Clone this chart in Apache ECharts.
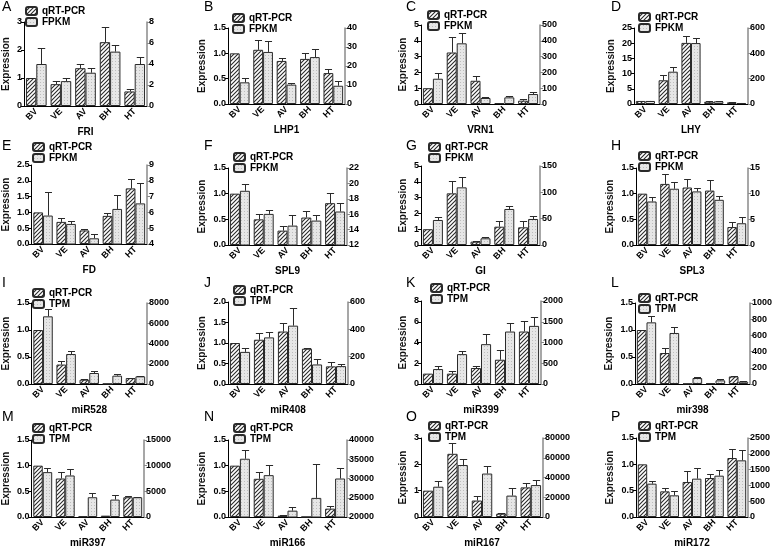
<!DOCTYPE html>
<html><head><meta charset="utf-8">
<script src="https://cdn.jsdelivr.net/npm/echarts@6/dist/echarts.min.js"></script>
<style>html,body{margin:0;padding:0;background:#fff}#c{width:778px;height:549px}</style>
</head><body><div id="c"></div>
<script>
// ---------------- DATA ----------------
const categories = ['BV', 'VE', 'AV', 'BH', 'HT'];
const panelLetters = ['A','B','C','D','E','F','G','H','I','J','K','L','M','N','O','P'];
const genes = ['FRI','LHP1','VRN1','LHY','FD','SPL9','GI','SPL3','miR528','miR408','miR399','mir398','miR397','miR166','miR167','miR172'];
const seqNames = ['FPKM','FPKM','FPKM','FPKM','FPKM','FPKM','FPKM','FPKM','TPM','TPM','TPM','TPM','TPM','TPM','TPM','TPM'];

// left axis ticks [min, max, interval] and right axis ticks
const leftTicks  = [[0,3,1],[0,1.5,0.5],[0,5,1],[0,25,5],[0,2.5,0.5],[0,1.5,0.5],[0,5,1],[0,1.5,0.5],
                    [0,1.5,0.5],[0,2,0.5],[0,8,2],[0,1.5,0.5],[0,1.5,0.5],[0,1.5,0.5],[0,3,1],[0,1.5,0.5]];
const rightTicks = [[0,8,2],[0,40,10],[0,500,100],[0,600,200],[4,9,1],[12,22,2],[0,150,50],[0,15,5],
                    [0,8000,2000],[0,600,200],[0,2000,500],[0,1000,200],[0,15000,5000],[20000,40000,5000],[0,80000,20000],[0,2500,500]];

const qrt_FRI = [1.0, 0.78, 1.35, 2.28, 0.52];   const qrtErr_FRI = [0, 0.13, 0.14, 0.54, 0.10];
const seq_FRI = [4.0, 2.37, 3.17, 5.18, 4.0];    const seqErr_FRI = [1.5, 0.29, 0.41, 0.64, 0.64];
const qrt_LHP1 = [1.0, 1.07, 0.85, 0.89, 0.61];  const qrtErr_LHP1 = [0, 0.20, 0.05, 0.11, 0.09];
const seq_LHP1 = [11.4, 27.4, 10.2, 24.7, 9.6];  const seqErr_LHP1 = [2.3, 5.6, 0.9, 4.4, 2.3];
const qrt_VRN1 = [1.0, 3.26, 1.47, 0.06, 0.21];  const qrtErr_VRN1 = [0, 0.96, 0.32, 0.02, 0.10];
const seq_VRN1 = [160, 384, 38, 42, 63];         const seqErr_VRN1 = [35, 63, 6, 6, 10];
const qrt_LHY = [1.0, 7.8, 20.1, 0.77, 0.55];    const qrtErr_LHY = [0, 1.8, 2.4, 0.13, 0.15];
const seq_LHY = [24, 255, 481, 21, 8];           const seqErr_LHY = [2, 34, 40, 5, 2];
const qrt_FD = [1.0, 0.70, 0.43, 0.89, 1.76];    const qrtErr_FD = [0, 0.12, 0.05, 0.09, 0.30];
const seq_FD = [5.8, 5.27, 4.36, 6.22, 6.57];    const seqErr_FD = [1.52, 0.17, 0.27, 0.88, 1.27];
const qrt_SPL9 = [1.0, 0.50, 0.28, 0.535, 0.815]; const qrtErr_SPL9 = [0, 0.10, 0.09, 0.13, 0.195];
const seq_SPL9 = [19.04, 16.04, 14.52, 15.17, 16.35]; const seqErr_SPL9 = [0.92, 0.53, 1.38, 0.73, 1.08];
const qrt_GI = [1.0, 3.27, 0.21, 1.16, 1.12];    const qrtErr_GI = [0, 0.80, 0.04, 0.38, 0.40];
const seq_GI = [47.5, 109.5, 12.7, 68.4, 49.4];  const seqErr_GI = [5, 20.5, 3.1, 5.6, 5.6];
const qrt_SPL3 = [1.0, 1.19, 1.12, 1.06, 0.35];  const qrtErr_SPL3 = [0, 0.19, 0.17, 0.20, 0.09];
const seq_SPL3 = [8.48, 10.96, 10.44, 8.8, 4.24]; const seqErr_SPL3 = [0.78, 1.3, 0.76, 0.8, 1.16];
const qrt_miR528 = [1.0, 0.36, 0.08, 0.005, 0.11]; const qrtErr_miR528 = [0, 0.06, 0.01, 0, 0.01];
const seq_miR528 = [6683, 2963, 1086, 823, 757];  const seqErr_miR528 = [757, 263, 231, 165, 66];
const qrt_miR408 = [1.0, 1.08, 1.28, 0.86, 0.43]; const qrtErr_miR408 = [0, 0.16, 0.21, 0.02, 0.10];
const seq_miR408 = [235, 341, 427, 143, 131];     const seqErr_miR408 = [27, 37, 129, 37, 17];
const qrt_miR399 = [1.0, 1.0, 1.54, 2.34, 5.06]; const qrtErr_miR399 = [0, 0.22, 0.16, 0.96, 1.04];
const seq_miR399 = [360, 720, 960, 1264, 1400];  const seqErr_miR399 = [64, 64, 240, 216, 208];
const qrt_mir398 = [1.0, 0.574, 0.006, 0.012, 0.14]; const qrtErr_mir398 = [0, 0.093, 0, 0, 0.015];
const seq_mir398 = [761, 630, 74, 45, 29];        const seqErr_mir398 = [74, 74, 16, 21, 12];
const qrt_miR397 = [1.0, 0.75, 0.013, 0.026, 0.385]; const qrtErr_miR397 = [0, 0.124, 0, 0, 0.032];
const seq_miR397 = [8741, 8089, 3848, 3392, 3848]; const seqErr_miR397 = [848, 1304, 849, 848, 66];
const qrt_miR166 = [1.0, 0.744, 0.026, 0.002, 0.163]; const qrtErr_miR166 = [0, 0.13, 0.007, 0, 0.057];
const seq_miR166 = [35130, 30870, 21650, 24960, 30000]; const seqErr_miR166 = [2170, 2520, 960, 8870, 2610];
const qrt_miR167 = [1.0, 2.4, 0.625, 0.125, 1.125]; const qrtErr_miR167 = [0, 0.41, 0.185, 0.025, 0.15];
const seq_miR167 = [30667, 52667, 44000, 21667, 32333]; const seqErr_miR167 = [5333, 5666, 7667, 7333, 5000];
const qrt_miR172 = [1.0, 0.487, 0.665, 0.74, 1.12]; const qrtErr_miR172 = [0, 0.063, 0.2, 0.076, 0.17];
const seq_miR172 = [1055, 686, 1213, 1308, 1793];  const seqErr_miR172 = [95, 126, 340, 190, 317];

const qrtAll = [qrt_FRI, qrt_LHP1, qrt_VRN1, qrt_LHY, qrt_FD, qrt_SPL9, qrt_GI, qrt_SPL3, qrt_miR528, qrt_miR408, qrt_miR399, qrt_mir398, qrt_miR397, qrt_miR166, qrt_miR167, qrt_miR172];
const qrtErrAll = [qrtErr_FRI, qrtErr_LHP1, qrtErr_VRN1, qrtErr_LHY, qrtErr_FD, qrtErr_SPL9, qrtErr_GI, qrtErr_SPL3, qrtErr_miR528, qrtErr_miR408, qrtErr_miR399, qrtErr_mir398, qrtErr_miR397, qrtErr_miR166, qrtErr_miR167, qrtErr_miR172];
const seqAll = [seq_FRI, seq_LHP1, seq_VRN1, seq_LHY, seq_FD, seq_SPL9, seq_GI, seq_SPL3, seq_miR528, seq_miR408, seq_miR399, seq_mir398, seq_miR397, seq_miR166, seq_miR167, seq_miR172];
const seqErrAll = [seqErr_FRI, seqErr_LHP1, seqErr_VRN1, seqErr_LHY, seqErr_FD, seqErr_SPL9, seqErr_GI, seqErr_SPL3, seqErr_miR528, seqErr_miR408, seqErr_miR399, seqErr_mir398, seqErr_miR397, seqErr_miR166, seqErr_miR167, seqErr_miR172];

// ---------------- LAYOUT (pixels) ----------------
// [left axis x, right axis x, top y, bottom y]
const layout = [
  [22,147,22,106],[228,345,28,104],[421,540,25,104],[634,748,28,104],
  [26,147,165,244],[228,347,168,245],[421,540,166,245],[636,748,168,245],
  [25,147,303,384],[228,348,302,384],[421,541,301,384],[635,750,303,384],
  [25,144,440,517],[228,347,440,517],[421,543,438,518],[636,748,438,517]
];
const legendPos = [[25,6],[232,13],[427,10],[638,12],[32,142],[233,152],[428,142],[638,151],
                   [32,288],[233,285],[430,283],[638,293],[32,423],[233,423],[428,421],[638,421]];
const letterX = [2,204,406,611];
const letterY = [0,139,276,410];

// ---------------- PATTERNS ----------------
function hatchCanvas() {
  const s = 4, c = document.createElement('canvas'); c.width = s; c.height = s;
  const g = c.getContext('2d');
  g.fillStyle = '#fff'; g.fillRect(0,0,s,s);
  g.strokeStyle = '#2a2a2a'; g.lineWidth = 1.1;
  g.beginPath();
  g.moveTo(-1, s+1); g.lineTo(s+1, -1);
  g.moveTo(-1, 1); g.lineTo(1, -1);
  g.moveTo(s-1, s+1); g.lineTo(s+1, s-1);
  g.stroke();
  return c;
}
function dotCanvas() {
  const s = 3, c = document.createElement('canvas'); c.width = s; c.height = s;
  const g = c.getContext('2d');
  g.fillStyle = '#e6e6e6'; g.fillRect(0,0,s,s);
  g.fillStyle = '#bdbdbd'; g.fillRect(1,1,1,1);
  return c;
}
const hatchFill = { image: hatchCanvas(), repeat: 'repeat' };
const dotFill = { image: dotCanvas(), repeat: 'repeat' };

const BARW = 0.42;
function errRender(side) {
  return function (params, api) {
    const idx = api.value(0), v = api.value(1), e = api.value(2);
    if (!(e > 0)) return null;
    const band = api.size([1, 0])[0];
    const bw = band * BARW;
    const p0 = api.coord([idx, v]);
    const p1 = api.coord([idx, v + e]);
    const x = Math.round(p0[0] + side * bw / 2) + 0.5;
    const y1 = Math.round(p1[1]) + 0.5;
    const cap = bw * 0.36;
    return { type: 'group', children: [
      { type: 'line', shape: { x1: x, y1: p0[1], x2: x, y2: y1 }, style: { stroke: '#2a2a2a', lineWidth: 1 } },
      { type: 'line', shape: { x1: x - cap, y1: y1, x2: x + cap, y2: y1 }, style: { stroke: '#2a2a2a', lineWidth: 1 } }
    ]};
  };
}
function labelWidth(t) { let w = 0; for (const ch of t) w += (ch === '.' ? 2.5 : 5); return w; }

const grid = [], xAxis = [], yAxis = [], series = [], legend = [], graphic = [];
for (let i = 0; i < 16; i++) {
  const [L, R, T, B] = layout[i];
  grid.push({ left: L, top: T, width: R - L, height: B - T, containLabel: false });
  xAxis.push({
    type: 'category', gridIndex: i, data: categories,
    axisLine: { show: true, lineStyle: { color: '#000', width: 1 } },
    axisTick: { show: false },
    axisLabel: { rotate: 45, interval: 0, fontSize: 9, fontWeight: 'bold', color: '#000', margin: 4 },
    name: genes[i], nameLocation: 'middle', nameGap: 21,
    nameTextStyle: { fontSize: 10, fontWeight: 'bold', color: '#000' }
  });
  const [lmin, lmax, lint] = leftTicks[i];
  const dec = lint < 1 ? 1 : 0;
  const fmtL = v => v.toFixed(dec);
  const maxLbl = fmtL(lmax);
  yAxis.push({
    type: 'value', gridIndex: i, position: 'left', min: lmin, max: lmax, interval: lint,
    axisLine: { show: true, lineStyle: { color: '#000', width: 1 } },
    axisTick: { show: true, length: 3, lineStyle: { color: '#000' } },
    splitLine: { show: false },
    axisLabel: { fontSize: 9, fontWeight: 'bold', color: '#000', margin: 2, formatter: fmtL },
    name: 'Expression', nameLocation: 'middle', nameGap: 3 + 2 + labelWidth(maxLbl) + 3,
    nameTextStyle: { fontSize: 10, fontWeight: 'bold', color: '#111' }
  });
  const [rmin, rmax, rint] = rightTicks[i];
  yAxis.push({
    type: 'value', gridIndex: i, position: 'right', min: rmin, max: rmax, interval: rint,
    axisLine: { show: true, lineStyle: { color: '#8a8a8a', width: 1.5 } },
    axisTick: { show: true, length: 3, lineStyle: { color: '#8a8a8a' } },
    splitLine: { show: false },
    axisLabel: { fontSize: 9, fontWeight: 'bold', color: '#000', margin: 2, formatter: v => String(Math.round(v)) }
  });
  const qv = qrtAll[i], qe = qrtErrAll[i], sv = seqAll[i], se = seqErrAll[i];
  series.push({
    type: 'bar', name: 'qRT-PCR', xAxisIndex: i, yAxisIndex: 2 * i, data: qv,
    barWidth: (BARW * 100) + '%', barGap: '0%', clip: true, silent: true,
    itemStyle: { color: hatchFill, borderColor: '#2a2a2a', borderWidth: 1 }
  });
  series.push({
    type: 'bar', name: seqNames[i], xAxisIndex: i, yAxisIndex: 2 * i + 1, data: sv,
    barWidth: (BARW * 100) + '%', barGap: '0%', clip: true, silent: true,
    itemStyle: { color: dotFill, borderColor: '#2a2a2a', borderWidth: 1 }
  });
  series.push({
    type: 'custom', xAxisIndex: i, yAxisIndex: 2 * i, silent: true, z: 5,
    renderItem: errRender(-1), encode: { x: 0, y: 1 },
    data: qv.map((v, k) => [k, v, qe[k]])
  });
  series.push({
    type: 'custom', xAxisIndex: i, yAxisIndex: 2 * i + 1, silent: true, z: 5,
    renderItem: errRender(1), encode: { x: 0, y: 1 },
    data: sv.map((v, k) => [k, v, se[k]])
  });
  legend.push({
    data: ['qRT-PCR', seqNames[i]], orient: 'vertical', left: legendPos[i][0], top: legendPos[i][1],
    itemWidth: 11, itemHeight: 8, itemGap: 1, padding: 0, selectedMode: false,
    textStyle: { fontSize: 10, fontWeight: 'bold', color: '#000', lineHeight: 9 }
  });
  graphic.push({
    type: 'text', left: letterX[i % 4], top: letterY[Math.floor(i / 4)],
    style: { text: panelLetters[i], font: '14px "Liberation Sans"', fill: '#000' }
  });
}

const chart = echarts.init(document.getElementById('c'), null, { renderer: 'canvas' });
chart.setOption({
  animation: false,
  backgroundColor: '#fff',
  textStyle: { fontFamily: '"Liberation Sans", Arial, sans-serif' },
  grid, xAxis, yAxis, series, legend, graphic
});
</script>
</body></html>
